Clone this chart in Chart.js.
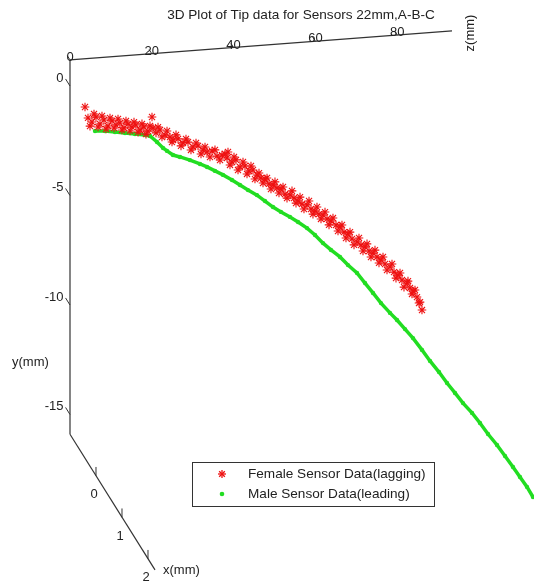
<!DOCTYPE html>
<html>
<head>
<meta charset="utf-8">
<script src="https://cdn.jsdelivr.net/npm/chart.js@4.4.1/dist/chart.umd.min.js"></script>
<style>
  html, body { margin: 0; padding: 0; background: #fff; }
  #wrap { width: 534px; height: 582px; }
</style>
</head>
<body>
<div id="wrap"><canvas id="c" width="534" height="582"></canvas></div>
<script>
// ---- Data (mm) ----
const chartTitle = '3D Plot of Tip data for Sensors 22mm,A-B-C';
const seriesNames = ['Female Sensor Data(lagging)', 'Male Sensor Data(leading)'];

const femaleZ = [3.67,4.40,5.38,6.36,7.34,8.31,9.29,10.27,11.25,12.23,13.20,14.18,15.16,16.14,17.12,18.09,19.07,20.05,20.29,21.03,22.01,23.23,24.45,25.18,26.41,27.63,28.85,30.07,31.30,32.52,33.50,34.72,35.94,37.16,38.39,38.63,39.61,40.59,41.57,42.79,43.77,44.74,45.72,46.70,47.68,48.66,49.63,50.61,51.59,52.57,53.79,54.77,55.75,56.72,57.95,58.92,59.90,60.88,61.86,62.84,63.81,65.04,66.02,66.99,67.97,68.95,70.17,71.15,72.13,73.11,74.08,75.06,76.04,77.02,78.24,79.22,80.20,81.17,82.40,83.13,83.86,84.84,85.58,86.06,
  4.89,5.87,6.85,7.82,8.80,9.78,10.76,11.74,12.71,13.69,14.67,15.65,16.63,17.60,18.58,19.56,21.52,22.49,23.72,24.94,25.92,27.14,28.36,29.58,30.81,32.03,33.01,34.23,35.45,36.68,37.90,39.12,40.10,41.08,42.30,43.28,44.25,45.23,46.21,47.19,48.17,49.14,50.12,51.10,52.08,53.06,54.28,55.26,56.24,57.21,58.44,59.41,60.39,61.37,62.35,63.33,64.30,65.53,66.50,67.48,68.46,69.44,70.66,71.64,72.62,73.59,74.57,75.55,76.53,77.51,78.73,79.71,80.69,81.66,82.64,83.62,84.35,85.33];
const femaleY = [-1.01,-1.52,-1.72,-1.51,-1.84,-1.67,-1.96,-1.74,-1.94,-1.86,-2.10,-1.94,-2.09,-2.01,-2.25,-2.13,-2.33,-1.70,-2.21,-2.44,-2.32,-2.57,-2.68,-2.82,-2.79,-2.99,-2.97,-3.21,-3.18,-3.38,-3.49,-3.46,-3.71,-3.68,-3.83,-3.56,-4.03,-3.95,-4.29,-4.26,-4.50,-4.47,-4.71,-4.86,-4.92,-5.16,-5.22,-5.37,-5.43,-5.68,-5.74,-5.89,-6.04,-6.19,-6.25,-6.45,-6.56,-6.71,-6.77,-6.96,-7.07,-7.27,-7.37,-7.62,-7.72,-7.96,-8.12,-8.27,-8.37,-8.57,-8.68,-8.87,-9.02,-9.22,-9.37,-9.62,-9.77,-10.01,-10.16,-10.40,-10.55,-10.84,-11.08,-11.45,
  -1.90,-1.36,-1.97,-1.48,-2.09,-1.60,-2.07,-1.67,-2.19,-1.79,-2.26,-1.87,-2.34,-1.98,-2.46,-2.10,-2.18,-2.65,-2.39,-2.91,-2.60,-3.12,-2.82,-3.34,-3.04,-3.56,-3.25,-3.73,-3.42,-3.90,-3.64,-4.16,-3.81,-4.42,-4.07,-4.63,-4.28,-4.89,-4.63,-5.10,-4.88,-5.40,-5.09,-5.61,-5.35,-5.87,-5.56,-6.13,-5.87,-6.43,-6.08,-6.69,-6.38,-6.94,-6.64,-7.24,-6.94,-7.55,-7.29,-7.90,-7.64,-8.24,-7.94,-8.55,-8.24,-8.85,-8.55,-9.15,-8.89,-9.50,-9.24,-9.90,-9.68,-10.34,-10.08,-10.68,-10.51,-11.12];

const maleZ = [6.11,8.56,11.00,13.45,15.89,18.34,19.56,21.27,22.74,23.72,25.18,26.89,29.34,31.78,33.50,35.45,37.41,39.61,41.56,43.52,45.72,47.68,49.63,51.59,53.79,55.75,57.95,59.90,61.86,63.81,66.01,67.97,70.17,72.13,74.08,76.04,78.24,79.95,81.91,83.86,86.06,88.02,90.22,92.18,94.13,96.09,98.29,100.24,102.20,104.40,106.36,108.31,110.02,111.74,113.20];
const maleY = [-2.14,-2.18,-2.26,-2.34,-2.42,-2.50,-2.56,-2.86,-3.15,-3.30,-3.51,-3.62,-3.80,-4.01,-4.17,-4.38,-4.59,-4.85,-5.11,-5.37,-5.63,-5.93,-6.23,-6.48,-6.74,-7.00,-7.31,-7.65,-8.05,-8.39,-8.74,-9.14,-9.53,-10.02,-10.50,-10.99,-11.47,-11.82,-12.26,-12.70,-13.27,-13.80,-14.34,-14.87,-15.35,-15.84,-16.32,-16.81,-17.34,-17.87,-18.40,-18.93,-19.41,-19.89,-20.37];
const dataX = -1; // depth (x) coordinate of both tip traces

// ---- Axis ticks / limits ----
const xTicks = [0, 1, 2];
const yTicks = [0, -5, -10, -15];
const zTicks = [0, 20, 40, 60, 80];
const xLim = [-1, 2.27], yLim = [-15.9, 1.19], zLim = [0, 93.4];

// ---- View (oblique projection of x,y,z onto the 2D value plane) ----
const VIEW = { exz: 6.357, exy: -1.895, tilt: 0.01417 };
function proj(x, y, z) {
  return { x: z + (x - xLim[0]) * VIEW.exz, y: y + VIEW.tilt * z + (x - xLim[0]) * VIEW.exy };
}

const femalePts = femaleZ.map((z, i) => proj(dataX, femaleY[i], z));
const malePts = maleZ.map((z, i) => proj(dataX, maleY[i], z));

const RED = '#ee1111', GREEN = '#22dd22', INK = '#222', AXIS = '#333';
const FONT = '13px "Liberation Sans", Arial, sans-serif';
const FONT_L = '13.6px "Liberation Sans", Arial, sans-serif';

const axes3d = {
  id: 'axes3d',
  beforeDraw(chart) {
    const ctx = chart.ctx;
    ctx.save();
    ctx.fillStyle = '#fff';
    ctx.fillRect(0, 0, chart.width, chart.height);
    ctx.restore();
  },
  beforeDatasetsDraw(chart) {
    const ctx = chart.ctx, xs = chart.scales.x, ys = chart.scales.y;
    const P = (x, y, z) => { const p = proj(x, y, z); return [xs.getPixelForValue(p.x), ys.getPixelForValue(p.y)]; };
    const line = (a, b) => { ctx.beginPath(); ctx.moveTo(a[0], a[1]); ctx.lineTo(b[0], b[1]); ctx.stroke(); };
    ctx.save();
    ctx.strokeStyle = AXIS; ctx.lineWidth = 1.2;
    ctx.font = FONT; ctx.fillStyle = INK;
    // y axis (vertical)
    line(P(xLim[0], yLim[0], 0), P(xLim[0], yLim[1], 0));
    // z axis (top)
    line(P(xLim[0], yLim[1], zLim[0]), P(xLim[0], yLim[1], zLim[1]));
    // x axis (diagonal)
    line(P(xLim[0], yLim[0], 0), P(xLim[1], yLim[0], 0));
    ctx.lineWidth = 1;
    // y ticks
    ctx.textAlign = 'right'; ctx.textBaseline = 'middle';
    yTicks.forEach(v => {
      const a = P(xLim[0], v, 0), b = P(xLim[0] - 0.17, v, 0);
      line(a, b);
      ctx.fillText(String(v), b[0] - 2, b[1] - 1);
    });
    // z ticks
    ctx.textAlign = 'center'; ctx.textBaseline = 'alphabetic';
    zTicks.forEach(v => {
      const a = P(xLim[0], yLim[1], v), b = P(xLim[0] - 0.1, yLim[1], v);
      line(a, b);
      ctx.fillText(String(v), a[0], a[1] + 1);
    });
    // x ticks
    ctx.textBaseline = 'middle';
    xTicks.forEach(v => {
      const a = P(v, yLim[0], 0), b = P(v, yLim[0] + 0.4, 0);
      line(a, b);
      ctx.fillText(String(v), a[0] - 2, a[1] + 19);
    });
    // axis labels
    const xe = P(xLim[1], yLim[0], 0);
    ctx.textAlign = 'left';
    ctx.fillText('x(mm)', xe[0] + 8, xe[1]);
    ctx.fillText('y(mm)', 12, 362);
    ctx.save();
    ctx.translate(470, 33); ctx.rotate(-Math.PI / 2);
    ctx.textAlign = 'center';
    ctx.fillText('z(mm)', 0, 0);
    ctx.restore();
    // title
    ctx.font = FONT_L;
    ctx.textAlign = 'center';
    ctx.fillText(chartTitle, 301, 15);
    ctx.restore();
  },
  afterDatasetsDraw(chart) {
    const ctx = chart.ctx;
    ctx.save();
    // legend box
    ctx.fillStyle = '#fff'; ctx.strokeStyle = AXIS; ctx.lineWidth = 1;
    ctx.fillRect(192.5, 462.5, 242, 44);
    ctx.strokeRect(192.5, 462.5, 242, 44);
    // star marker
    const sx = 222, sy = 474, r = 4;
    ctx.strokeStyle = RED; ctx.lineWidth = 1.3;
    for (let k = 0; k < 4; k++) {
      const a = k * Math.PI / 4;
      ctx.beginPath();
      ctx.moveTo(sx - r * Math.cos(a), sy - r * Math.sin(a));
      ctx.lineTo(sx + r * Math.cos(a), sy + r * Math.sin(a));
      ctx.stroke();
    }
    ctx.fillStyle = GREEN;
    ctx.beginPath(); ctx.arc(222, 494, 2.3, 0, Math.PI * 2); ctx.fill();
    ctx.fillStyle = INK; ctx.font = FONT_L;
    ctx.textAlign = 'left'; ctx.textBaseline = 'middle';
    ctx.fillText(seriesNames[0], 248, 474);
    ctx.fillText(seriesNames[1], 248, 494);
    ctx.restore();
  }
};

new Chart(document.getElementById('c'), {
  type: 'scatter',
  data: {
    datasets: [
      {
        label: seriesNames[0],
        data: femalePts,
        pointStyle: 'star',
        pointRadius: 4.3,
        borderColor: RED,
        backgroundColor: RED,
        pointBorderWidth: 1.1
      },
      {
        label: seriesNames[1],
        data: malePts,
        showLine: true,
        borderColor: GREEN,
        borderWidth: 3.5,
        pointRadius: 2.2,
        pointBackgroundColor: GREEN,
        pointBorderWidth: 0
      }
    ]
  },
  options: {
    responsive: false,
    animation: false,
    layout: { padding: 0, autoPadding: false },
    scales: {
      x: { type: 'linear', display: false, min: -17.115, max: 113.45 },
      y: { type: 'linear', display: false, min: -22.648, max: 3.927 }
    },
    plugins: { legend: { display: false }, tooltip: { enabled: false }, title: { display: false } }
  },
  plugins: [axes3d]
});
</script>
</body>
</html>
